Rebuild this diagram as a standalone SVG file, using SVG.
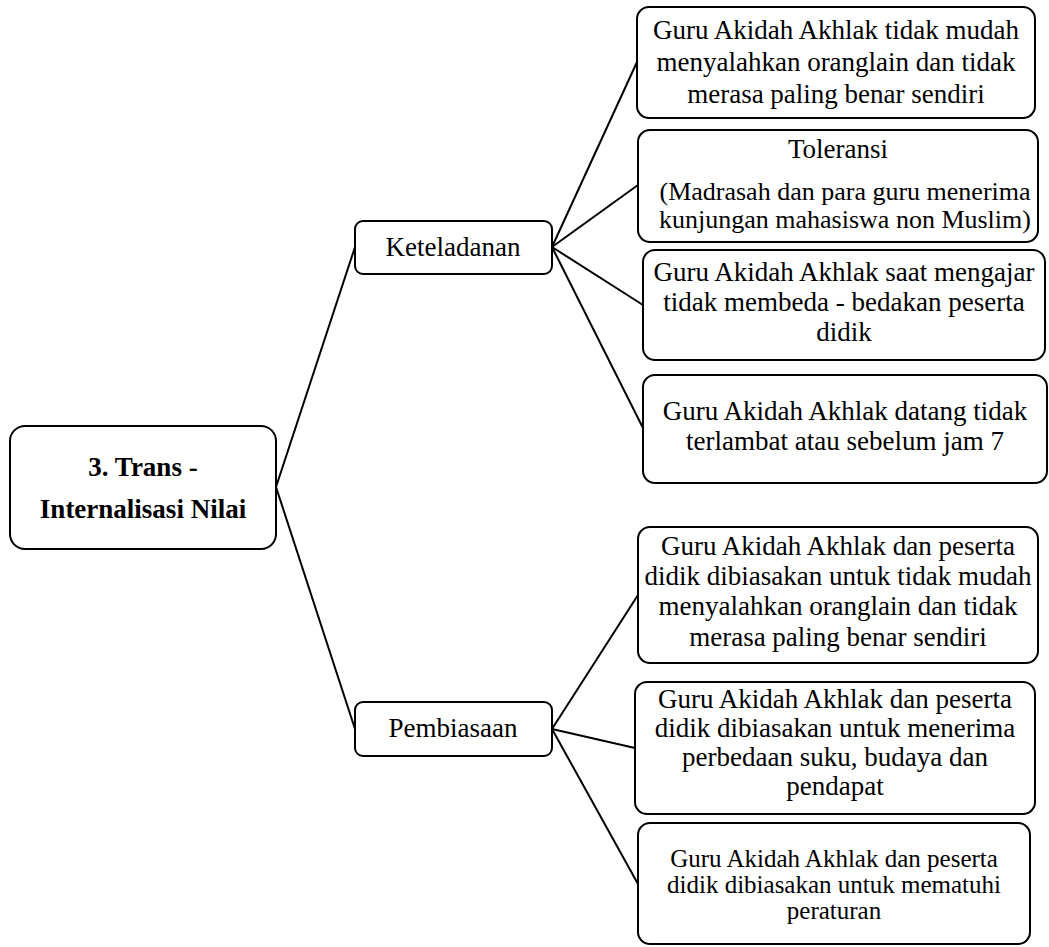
<svg xmlns="http://www.w3.org/2000/svg" width="1049" height="947" viewBox="0 0 1049 947">
<style>
.box{fill:#fff;stroke:#000;stroke-width:2}
.t{font-family:"Liberation Serif","Times New Roman",serif;font-size:27px;fill:#000;text-anchor:middle}
.b{font-weight:bold}
.s{font-size:25px}
.m{font-size:26px}
.c{stroke:#000;stroke-width:2;fill:none}
</style>
<rect width="1049" height="947" fill="#fff"/>
<g id="connectors">
<line class="c" x1="276" y1="487" x2="355" y2="247"/>
<line class="c" x1="276" y1="487" x2="355" y2="729"/>
<line class="c" x1="552" y1="247" x2="637" y2="62"/>
<line class="c" x1="552" y1="247" x2="638" y2="185"/>
<line class="c" x1="552" y1="247" x2="643" y2="305"/>
<line class="c" x1="552" y1="247" x2="643" y2="428"/>
<line class="c" x1="552" y1="729" x2="638" y2="595"/>
<line class="c" x1="552" y1="729" x2="635" y2="748"/>
<line class="c" x1="552" y1="729" x2="638" y2="884"/>
</g>
<g id="root">
<rect class="box" x="10" y="426" width="266" height="123" rx="15"/>
<text class="t b" x="143" y="476">3. Trans -</text>
<text class="t b" x="143" y="518">Internalisasi Nilai</text>
</g>
<g id="keteladanan">
<rect class="box" x="355" y="221" width="197" height="53" rx="8"/>
<text class="t" x="453" y="256">Keteladanan</text>
</g>
<g id="pembiasaan">
<rect class="box" x="355" y="702" width="197" height="54" rx="8"/>
<text class="t" x="453" y="737">Pembiasaan</text>
</g>
<g id="k1">
<rect class="box" x="637" y="7" width="398" height="111" rx="12"/>
<text class="t" x="836" y="39">Guru Akidah Akhlak tidak mudah</text>
<text class="t" x="836" y="71">menyalahkan oranglain dan tidak</text>
<text class="t" x="836" y="103">merasa paling  benar sendiri</text>
</g>
<g id="k2">
<rect class="box" x="638" y="130" width="400" height="112" rx="12"/>
<text class="t" x="838" y="158">Toleransi</text>
<text class="t m" x="845" y="200">(Madrasah dan para guru menerima</text>
<text class="t m" x="845" y="228">kunjungan mahasiswa non Muslim)</text>
</g>
<g id="k3">
<rect class="box" x="643" y="250" width="402" height="110" rx="12"/>
<text class="t" x="844" y="281">Guru Akidah Akhlak saat mengajar</text>
<text class="t" x="844" y="311">tidak membeda - bedakan peserta</text>
<text class="t" x="844" y="341">didik</text>
</g>
<g id="k4">
<rect class="box" x="643" y="375" width="404" height="108" rx="12"/>
<text class="t" x="845" y="420">Guru Akidah Akhlak datang tidak</text>
<text class="t" x="845" y="450">terlambat atau sebelum jam 7</text>
</g>
<g id="p1">
<rect class="box" x="638" y="527" width="400" height="136" rx="12"/>
<text class="t" x="838" y="555">Guru Akidah Akhlak dan peserta</text>
<text class="t" x="838" y="585">didik dibiasakan untuk tidak mudah</text>
<text class="t" x="838" y="615">menyalahkan oranglain dan tidak</text>
<text class="t" x="838" y="646">merasa paling  benar sendiri</text>
</g>
<g id="p2">
<rect class="box" x="635" y="682" width="400" height="132" rx="12"/>
<text class="t" x="835" y="708">Guru Akidah Akhlak dan peserta</text>
<text class="t" x="835" y="737">didik dibiasakan untuk menerima</text>
<text class="t" x="835" y="766">perbedaan suku, budaya dan</text>
<text class="t" x="835" y="795">pendapat</text>
</g>
<g id="p3">
<rect class="box" x="638" y="823" width="392" height="121" rx="12"/>
<text class="t s" x="834" y="867">Guru Akidah Akhlak dan peserta</text>
<text class="t s" x="834" y="893">didik dibiasakan untuk mematuhi</text>
<text class="t s" x="834" y="919">peraturan</text>
</g>
</svg>
